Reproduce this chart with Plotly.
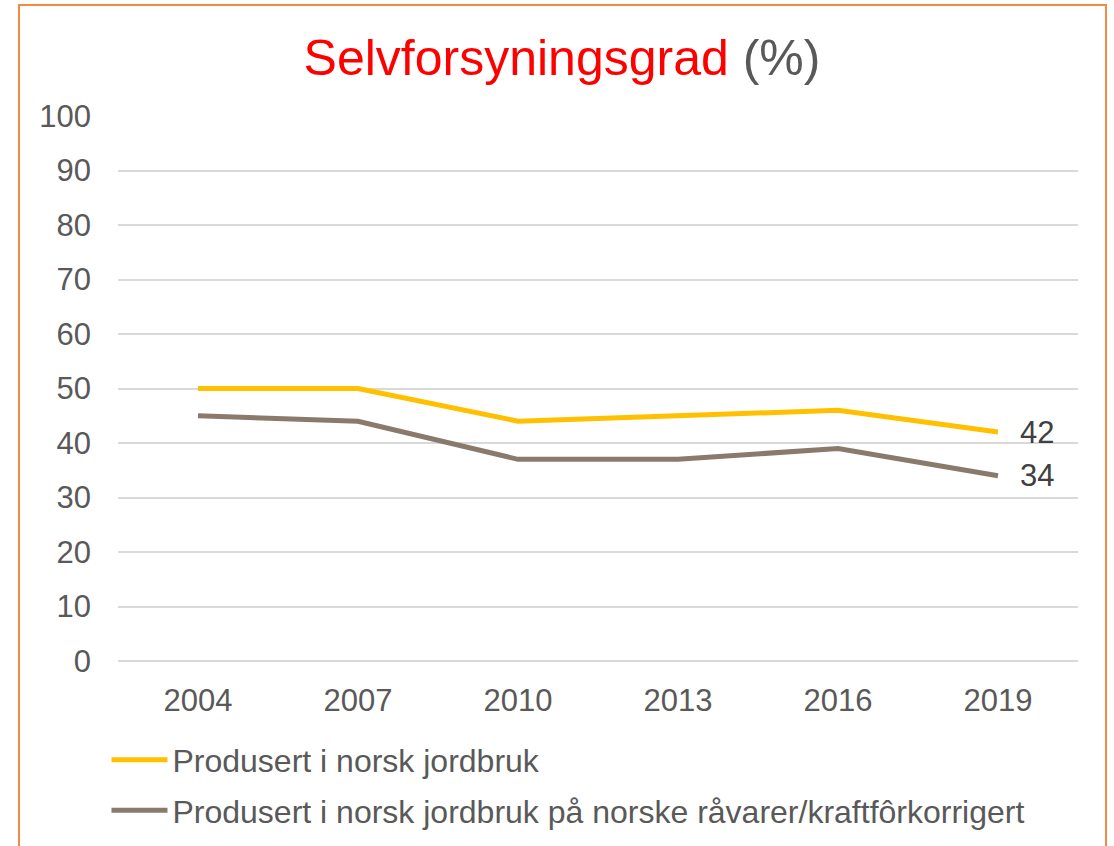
import plotly.graph_objects as go

years = ["2004", "2007", "2010", "2013", "2016", "2019"]
series_names = [
    "Produsert i norsk jordbruk",
    "Produsert i norsk jordbruk på norske råvarer/kraftfôrkorrigert",
]
produsert = [50, 50, 44, 45, 46, 42]
korrigert = [45, 44, 37, 37, 39, 34]
colors = ["#FFC000", "#8A7A6C"]

FONT = "Liberation Sans, Arial, sans-serif"

W, H = 1114, 846
L, R, T, B = 118, 36, 116, 185
PW, PH = W - L - R, H - T - B

fig = go.Figure()
for i, (name, vals) in enumerate(zip(series_names, [produsert, korrigert])):
    fig.add_trace(go.Scatter(
        x=years, y=vals, name=name, mode="lines",
        line=dict(color=colors[i], width=5),
        legendgroup=f"g{i}",
    ))
    fig.add_annotation(
        x=len(years) - 1, y=vals[-1], text=str(vals[-1]),
        xanchor="left", yanchor="middle", xshift=20, showarrow=False,
        font=dict(family=FONT, size=31, color="#404040"),
    )

fig.update_layout(
    width=W, height=H,
    margin=dict(l=L, r=R, t=T, b=B, autoexpand=False),
    paper_bgcolor="white", plot_bgcolor="white",
    font=dict(family=FONT, color="#595959"),
    title=dict(
        text="<span style='color:#FF0000'>Selvforsyningsgrad</span> <span style='color:#595959'>(%)</span>",
        x=562 / W, xanchor="center", y=1 - 57 / H, yanchor="middle",
        font=dict(family=FONT, size=50),
    ),
    showlegend=True,
    legend=dict(
        x=-0.012, xanchor="left", y=-0.131, yanchor="top",
        orientation="v", tracegroupgap=6, itemwidth=56,
        font=dict(family=FONT, size=32, color="#595959"),
        bgcolor="rgba(0,0,0,0)",
    ),
    xaxis=dict(
        type="category", range=[-0.5, 5.5], showgrid=False, showline=False,
        zeroline=False, ticks="", tickfont=dict(family=FONT, size=31, color="#595959"),
        ticklabelstandoff=18,
    ),
    yaxis=dict(
        range=[0, 100], dtick=10, showgrid=True, gridcolor="#D9D9D9", gridwidth=1.5,
        zeroline=True, zerolinecolor="#D9D9D9", zerolinewidth=1.5, showline=False,
        ticks="", tickfont=dict(family=FONT, size=31, color="#595959"),
        ticklabelstandoff=26,
    ),
)

fig.add_shape(
    type="rect", xref="paper", yref="paper",
    x0=(19 - L) / PW, x1=(1106 - L) / PW,
    y0=-0.4, y1=(H - B - 5) / PH,
    line=dict(color="#F7883F", width=2), fillcolor="rgba(0,0,0,0)", layer="below",
)

fig.write_html(
    "out.html",
    config={"displayModeBar": False},
    post_script="document.body.style.margin='0px';document.body.style.overflow='hidden';",
)
